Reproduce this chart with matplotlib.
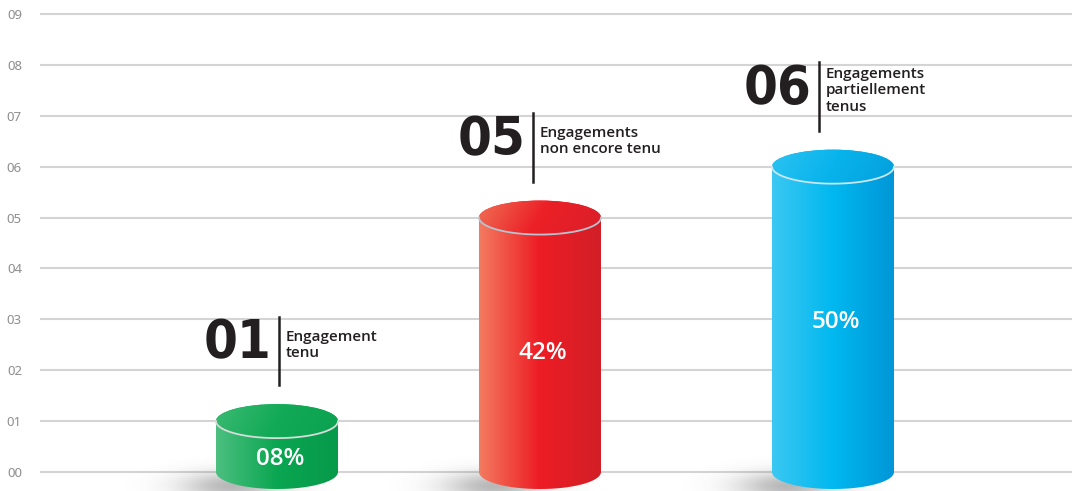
import numpy as np
import matplotlib
matplotlib.use("Agg")
import matplotlib.pyplot as plt
from matplotlib.colors import LinearSegmentedColormap
from matplotlib.patches import Ellipse, PathPatch
from matplotlib.path import Path

# data
numbers = ["01", "05", "06"]
values = [1, 5, 6]
percents = ["08%", "42%", "50%"]
labels = ["Engagement\ntenu", "Engagements\nnon encore tenu", "Engagements\npartiellement\ntenus"]
yticks = list(range(10))
ytick_labels = [f"{v:02d}" for v in yticks]

# layout (pixel units on x)
centers = [277, 540, 833]
note_x = [279, 533, 819]
pct_y = [0.26, 2.33, 2.95]
half_w = 61
ell_h = 17 / 50.89

body_stops = [
    ["#4cbf80", "#0aa651", "#069a4b"],
    ["#f37b5f", "#ed1c24", "#d21f27"],
    ["#3cc8f2", "#00b8ef", "#0096d7"],
]
top_stops = [
    ["#3dbb75", "#12aa56", "#0aa050"],
    ["#f07357", "#ec1f26", "#d9202a"],
    ["#2ec4f2", "#08b3ec", "#049fdd"],
]
rim_colors = ["#d6dcd8", "#b8c4d2", "#c8e6f4"]

fig = plt.figure(figsize=(10.72, 4.91), dpi=100)
ax = fig.add_axes([40 / 1072, 0, 1 - 40 / 1072, 1])
ax.set_xlim(40, 1072)
ax.set_ylim(-19 / 50.89, 9 + 14 / 50.89)
for s in ax.spines.values():
    s.set_visible(False)
ax.set_xticks([])
ax.set_yticks(yticks)
ax.set_yticklabels(ytick_labels, fontfamily="Noto Sans", fontsize=9.5, color="#8e8e8e")
ax.tick_params(axis="y", length=0, pad=13)
ax.yaxis.grid(True, color="#d4d4d4", linewidth=1.5)
ax.set_axisbelow(True)

xx = np.linspace(0, 1, 256)

for i, v in enumerate(values):
    cx = centers[i]
    # soft shadow at the base
    sx = np.linspace(cx - 160, cx + 50, 220)
    sy = np.linspace(-0.4, 0.7, 80)
    gx, gy = np.meshgrid(sx, sy)
    a = 0.4 * np.exp(-(((gx - (cx - 45)) / 50) ** 2) - ((gy - (-0.28)) / 0.28) ** 2)
    sh = np.zeros(gx.shape + (4,))
    sh[..., :3] = 0.3
    sh[..., 3] = a
    ax.imshow(sh, extent=[sx[0], sx[-1], sy[0], sy[-1]], origin="lower",
              aspect="auto", zorder=1, interpolation="bilinear")

    # body
    t = np.linspace(np.pi, 2 * np.pi, 60)
    verts = [(cx - half_w, v)] + list(zip(cx + half_w * np.cos(t), ell_h * np.sin(t))) + [(cx + half_w, v), (cx - half_w, v)]
    body = PathPatch(Path(verts), facecolor="none", edgecolor="none")
    ax.add_patch(body)
    cmap = LinearSegmentedColormap.from_list("b", list(zip([0, 0.5, 1], body_stops[i])))
    im = ax.imshow(xx[None, :], cmap=cmap, extent=[cx - half_w, cx + half_w, -ell_h, v],
                   aspect="auto", zorder=2, interpolation="bilinear")
    im.set_clip_path(body)

    # top
    ax.add_patch(Ellipse((cx, v), 2 * half_w, 2 * ell_h, facecolor=top_stops[i][1],
                         edgecolor="none", zorder=2.9))
    top = Ellipse((cx, v), 2 * half_w, 2 * ell_h, facecolor="none", edgecolor="none")
    ax.add_patch(top)
    gxx, gyy = np.meshgrid(np.linspace(0, 1, 128), np.linspace(0, 1, 32))
    cmap_t = LinearSegmentedColormap.from_list("t", list(zip([0, 0.5, 1], top_stops[i])))
    im2 = ax.imshow(np.clip(gxx * 0.85 + (1 - gyy) * 0.15, 0, 1), cmap=cmap_t, vmin=0, vmax=1,
                    extent=[cx - half_w - 2, cx + half_w + 2, v - ell_h - 0.05, v + ell_h + 0.05],
                    origin="lower", aspect="auto", zorder=3, interpolation="bilinear")
    im2.set_clip_path(top)
    ax.plot(cx + half_w * np.cos(t), v + ell_h * np.sin(t), color=rim_colors[i], lw=1.3, zorder=4)

    # percent label
    ax.text(cx + 3, pct_y[i], percents[i], color="white", fontsize=17.5, fontweight="semibold",
            fontfamily=["Open Sans", "DejaVu Sans"], ha="center", va="center", zorder=5)

    # annotation
    lx = note_x[i]
    ax.plot([lx, lx], [v + 0.7, v + 2.05], color="#231f20", lw=1.8, zorder=5)
    ax.text(lx - 8, v + 1.52, numbers[i], fontsize=39, fontweight="bold", fontstretch="condensed",
            fontfamily=["DejaVu Sans"], color="#231f20",
            ha="right", va="center", zorder=5)
    ax.text(lx + 7, v + 1.5, labels[i], fontsize=11, fontweight="semibold",
            fontfamily=["Open Sans", "DejaVu Sans"], color="#231f20", linespacing=1.2,
            ha="left", va="center", zorder=5)

fig.savefig("out.png", dpi=100)
